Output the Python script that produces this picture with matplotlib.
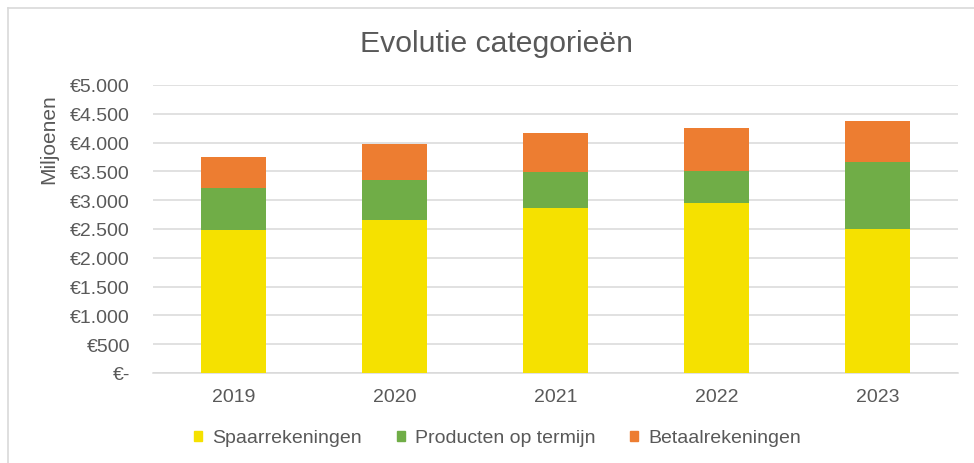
import matplotlib
matplotlib.use("Agg")
import matplotlib.pyplot as plt
from matplotlib.lines import Line2D
from matplotlib.patches import Rectangle

years = ["2019", "2020", "2021", "2022", "2023"]
spaar = [2490, 2656, 2861, 2955, 2500]
termijn = [718, 703, 622, 552, 1168]
betaal = [537, 624, 691, 743, 709]
series_names = ["Spaarrekeningen", "Producten op termijn", "Betaalrekeningen"]
colors = ["#f5e100", "#70ad47", "#ed7d31"]
yticks = [0, 500, 1000, 1500, 2000, 2500, 3000, 3500, 4000, 4500, 5000]

def fmt(v):
    if v == 0:
        return "€-"
    return "€" + f"{v:,}".replace(",", ".")

plt.rcParams['font.family'] = ['Liberation Sans', 'DejaVu Sans']
txt = "#595959"

fig = plt.figure(figsize=(9.74, 4.64), dpi=100)
ax = fig.add_axes([153/974, 1-374/464, (958-153)/974, (374-86)/464])

x = list(range(len(years)))
w = 0.405
bottom2 = [a + b for a, b in zip(spaar, termijn)]
ax.bar(x, spaar, w, color=colors[0], zorder=3)
ax.bar(x, termijn, w, bottom=spaar, color=colors[1], zorder=3)
ax.bar(x, betaal, w, bottom=bottom2, color=colors[2], zorder=3)

ax.set_xlim(-0.5, len(years) - 0.5)
ax.set_ylim(0, 5000)
ax.set_yticks(yticks)
ax.set_yticklabels([fmt(v) for v in yticks], fontsize=14, color=txt)
ax.set_xticks(x)
ax.set_xticklabels(years, fontsize=14, color=txt)
ax.tick_params(axis='both', length=0)
ax.tick_params(axis='y', pad=16.5)
ax.tick_params(axis='x', pad=11)
ax.grid(axis='y', color="#d9d9d9", linewidth=1.1, zorder=0)
for s in ["top", "right", "left"]:
    ax.spines[s].set_visible(False)
ax.spines["bottom"].set_color("#d9d9d9")
ax.spines["bottom"].set_linewidth(1.1)

fig.text(49/974, 1-139/464, "Miljoenen", rotation=90, ha="center", va="center",
         fontsize=15, color=txt)
fig.text(497/974, 1-44/464, "Evolutie categorieën", ha="center", va="center",
         fontsize=21.7, color=txt)

handles = [Rectangle((0, 0), 1, 1, color=c) for c in colors]
fig.legend(handles, series_names, loc="center", bbox_to_anchor=(497.5/974, 1-439/464),
           ncol=3, frameon=False, fontsize=14, labelcolor=txt,
           handlelength=0.42, handleheight=0.42, handletextpad=0.5, columnspacing=1.8)

# chart border
fig.add_artist(Line2D([8/974, 1], [1-9/464, 1-9/464], color="#d9d9d9", linewidth=1.2,
                      transform=fig.transFigure))
fig.add_artist(Line2D([8/974, 8/974], [0, 1-9/464], color="#d9d9d9", linewidth=1.2,
                      transform=fig.transFigure))

fig.savefig("out.png", dpi=100)
